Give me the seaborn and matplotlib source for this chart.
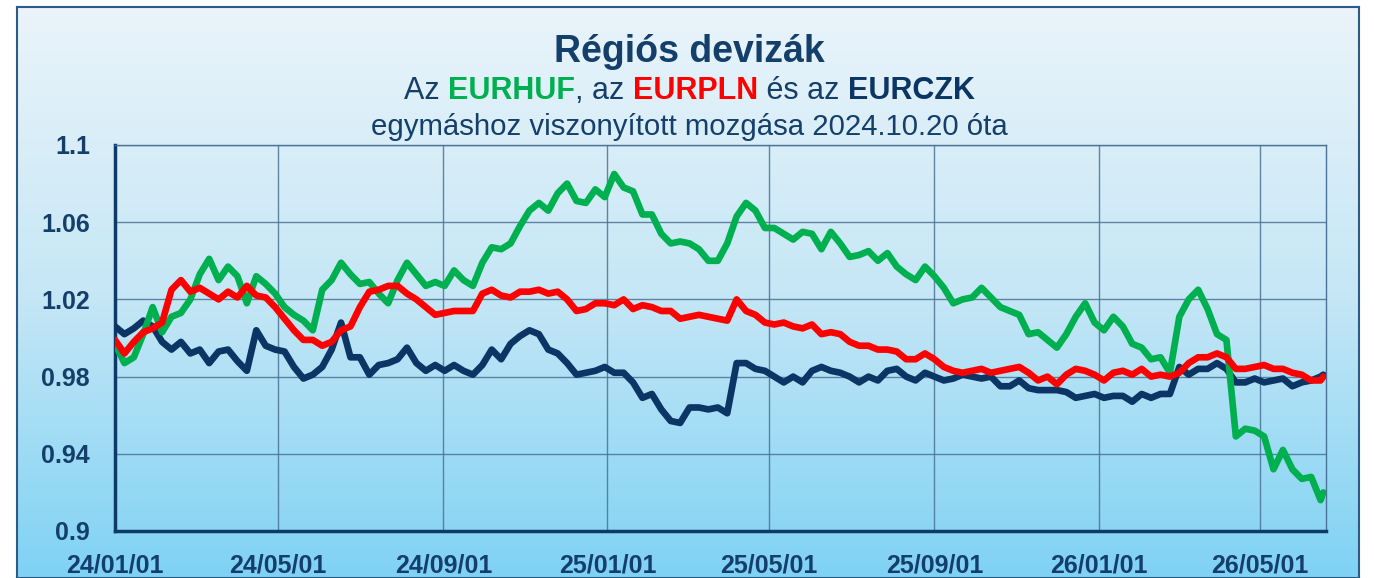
import numpy as np
import pandas as pd
import matplotlib
matplotlib.use('Agg')
import matplotlib.pyplot as plt
from matplotlib.colors import LinearSegmentedColormap
import seaborn as sns

# weekly readings from 2024-01-01, plus the last day
dates = list(pd.date_range('2024-01-01', periods=129, freq='7D')) + [pd.Timestamp('2026-06-17')]

eurhuf = [0.997, 0.987, 0.990, 1.002, 1.016, 1.003, 1.011, 1.013, 1.020, 1.033,
          1.041, 1.030, 1.037, 1.032, 1.018, 1.032, 1.028, 1.023, 1.016, 1.012,
          1.009, 1.004, 1.025, 1.030, 1.039, 1.033, 1.028, 1.029, 1.023, 1.018,
          1.030, 1.039, 1.033, 1.027, 1.029, 1.027, 1.035, 1.030, 1.027, 1.039,
          1.047, 1.046, 1.049, 1.058, 1.066, 1.070, 1.066, 1.075, 1.080, 1.071,
          1.070, 1.077, 1.073, 1.085, 1.078, 1.076, 1.064, 1.064, 1.054, 1.049,
          1.050, 1.049, 1.046, 1.040, 1.040, 1.049, 1.063, 1.070, 1.066, 1.057,
          1.057, 1.054, 1.051, 1.055, 1.054, 1.046, 1.055, 1.049, 1.042, 1.043,
          1.045, 1.040, 1.044, 1.037, 1.033, 1.030, 1.037, 1.032, 1.026, 1.018,
          1.020, 1.021, 1.026, 1.021, 1.016, 1.014, 1.012, 1.002, 1.003, 0.999,
          0.995, 1.002, 1.011, 1.018, 1.008, 1.004, 1.011, 1.006, 0.997, 0.995,
          0.989, 0.990, 0.982, 1.011, 1.020, 1.025, 1.015, 1.002, 0.999, 0.949,
          0.953, 0.952, 0.949, 0.932, 0.942, 0.932, 0.927, 0.928, 0.916, 0.920]

eurpln = [0.999, 0.992, 0.998, 1.003, 1.005, 1.008, 1.025, 1.030, 1.024, 1.026,
          1.023, 1.020, 1.024, 1.021, 1.027, 1.022, 1.021, 1.016, 1.010, 1.004,
          0.999, 0.999, 0.996, 0.998, 1.004, 1.006, 1.016, 1.024, 1.025, 1.027,
          1.027, 1.023, 1.020, 1.016, 1.012, 1.013, 1.014, 1.014, 1.014, 1.023,
          1.025, 1.022, 1.021, 1.024, 1.024, 1.025, 1.023, 1.024, 1.020, 1.014,
          1.015, 1.018, 1.018, 1.017, 1.020, 1.015, 1.017, 1.016, 1.014, 1.014,
          1.010, 1.011, 1.012, 1.011, 1.010, 1.009, 1.020, 1.014, 1.012, 1.008,
          1.007, 1.008, 1.006, 1.005, 1.007, 1.002, 1.003, 1.002, 0.998, 0.996,
          0.996, 0.994, 0.994, 0.993, 0.989, 0.989, 0.992, 0.989, 0.985, 0.983,
          0.982, 0.983, 0.984, 0.982, 0.983, 0.984, 0.985, 0.982, 0.978, 0.980,
          0.976, 0.981, 0.984, 0.983, 0.981, 0.978, 0.982, 0.983, 0.981, 0.984,
          0.980, 0.981, 0.980, 0.982, 0.987, 0.990, 0.990, 0.992, 0.990, 0.984,
          0.984, 0.985, 0.986, 0.984, 0.984, 0.982, 0.981, 0.978, 0.978, 0.980]

eurczk = [1.006, 1.002, 1.005, 1.009, 1.006, 0.998, 0.994, 0.998, 0.992, 0.994,
          0.987, 0.993, 0.994, 0.988, 0.983, 1.004, 0.996, 0.994, 0.993, 0.985,
          0.979, 0.981, 0.985, 0.994, 1.008, 0.990, 0.990, 0.981, 0.986, 0.987,
          0.989, 0.995, 0.987, 0.983, 0.986, 0.983, 0.986, 0.983, 0.981, 0.986,
          0.994, 0.989, 0.997, 1.001, 1.004, 1.002, 0.994, 0.992, 0.987, 0.981,
          0.982, 0.983, 0.985, 0.982, 0.982, 0.977, 0.969, 0.971, 0.963, 0.957,
          0.956, 0.964, 0.964, 0.963, 0.964, 0.961, 0.987, 0.987, 0.984, 0.983,
          0.980, 0.977, 0.980, 0.977, 0.983, 0.985, 0.983, 0.982, 0.980, 0.977,
          0.980, 0.978, 0.983, 0.984, 0.980, 0.978, 0.982, 0.980, 0.978, 0.979,
          0.981, 0.980, 0.979, 0.980, 0.975, 0.975, 0.978, 0.974, 0.973, 0.973,
          0.973, 0.972, 0.969, 0.970, 0.971, 0.969, 0.970, 0.970, 0.967, 0.971,
          0.969, 0.971, 0.971, 0.985, 0.981, 0.984, 0.984, 0.987, 0.984, 0.977,
          0.977, 0.979, 0.977, 0.978, 0.979, 0.975, 0.977, 0.978, 0.980, 0.981]

xtick_dates = pd.to_datetime(['2024-01-01', '2024-05-01', '2024-09-01', '2025-01-01',
                              '2025-05-01', '2025-09-01', '2026-01-01', '2026-05-01'])
xtick_labels = ['24/01/01', '24/05/01', '24/09/01', '25/01/01',
                '25/05/01', '25/09/01', '26/01/01', '26/05/01']
ytick_values = [0.9, 0.94, 0.98, 1.02, 1.06, 1.1]
ytick_labels = ['0.9', '0.94', '0.98', '1.02', '1.06', '1.1']

colors = {'EURCZK': '#0b3564', 'EURHUF': '#00b050', 'EURPLN': '#ff0000'}
navy = '#153f6b'
grid_col = '#4a7296'

df = pd.concat([
    pd.DataFrame({'date': dates, 'value': eurczk, 'pair': 'EURCZK'}),
    pd.DataFrame({'date': dates, 'value': eurhuf, 'pair': 'EURHUF'}),
    pd.DataFrame({'date': dates, 'value': eurpln, 'pair': 'EURPLN'}),
])

sns.set_style('white')
plt.rcParams['font.family'] = ['Liberation Sans', 'DejaVu Sans']

W, H = 1374, 578
fig = plt.figure(figsize=(W / 100, H / 100), dpi=100)

# gradient background inside the frame
bg = fig.add_axes([17 / W, 0, (1359 - 17) / W, (H - 7) / H], zorder=0)
cmap = LinearSegmentedColormap.from_list('bg', ['#eaf4fa', '#c6e7f6', '#7fd2f4'])
bg.imshow(np.linspace(0, 1, 256).reshape(-1, 1), aspect='auto', cmap=cmap,
          extent=[0, 1, 0, 1])
bg.set_xticks([])
bg.set_yticks([])
for s in bg.spines.values():
    s.set_color('#2b5b86')
    s.set_linewidth(1.5)

ax = fig.add_axes([115 / W, 1 - 531 / H, (1326 - 115) / W, (531 - 145) / H], zorder=1)
ax.set_facecolor('none')

sns.lineplot(data=df, x='date', y='value', hue='pair',
             hue_order=['EURCZK', 'EURHUF', 'EURPLN'], palette=colors,
             linewidth=4.8, legend=False, ax=ax, zorder=3)

ax.set_xlim(pd.Timestamp('2024-01-01'), pd.Timestamp('2026-06-19'))
ax.set_ylim(0.9, 1.1)
ax.set_xticks(xtick_dates)
ax.set_xticklabels(xtick_labels, fontweight='bold')
ax.set_yticks(ytick_values)
ax.set_yticklabels(ytick_labels, fontweight='bold')
ax.tick_params(axis='both', length=0, labelsize=18, labelcolor=navy)
ax.tick_params(axis='y', pad=18)
ax.tick_params(axis='x', pad=16)
ax.set_xlabel('')
ax.set_ylabel('')
ax.grid(True, color=grid_col, linewidth=1, alpha=0.85)
ax.set_axisbelow(True)
for side in ['left', 'bottom']:
    ax.spines[side].set_color('#0d3a66')
    ax.spines[side].set_linewidth(2.5)
for side in ['top', 'right']:
    ax.spines[side].set_color(grid_col)
    ax.spines[side].set_linewidth(1)

cx = 0.502
fig.text(cx, 1 - 52 / H, 'Régiós devizák', ha='center', va='center',
         fontsize=27, fontweight='bold', color=navy)

# second title line with coloured pair names
pieces = [('Az ', navy, 'normal'), ('EURHUF', colors['EURHUF'], 'bold'),
          (', az ', navy, 'normal'), ('EURPLN', colors['EURPLN'], 'bold'),
          (' és az ', navy, 'normal'), ('EURCZK', colors['EURCZK'], 'bold')]
renderer = fig.canvas.get_renderer()
texts = []
for s, c, w in pieces:
    t = fig.text(0, 1 - 91 / H, s, ha='left', va='center', fontsize=22,
                 fontweight=w, color=c)
    texts.append(t)
widths = [t.get_window_extent(renderer).width / W for t in texts]
x = cx - sum(widths) / 2
for t, w in zip(texts, widths):
    t.set_x(x)
    x += w

fig.text(cx, 1 - 127 / H, 'egymáshoz viszonyított mozgása 2024.10.20 óta',
         ha='center', va='center', fontsize=21.2, color=navy)

fig.savefig('out.png', dpi=100)
